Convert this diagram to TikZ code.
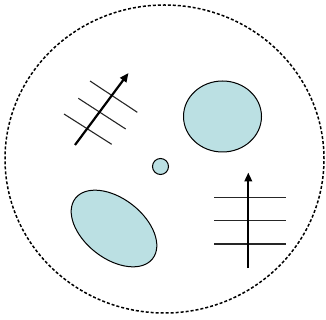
\documentclass[tikz,border=0pt]{standalone}
\usepackage{xcolor}
\usepackage{tikz}
\usetikzlibrary{arrows.meta,shapes.geometric}

\definecolor{cellfill}{RGB}{187,224,227}

\begin{document}
\begin{tikzpicture}[
    x=1pt, y=-1pt,
    blob/.style={ellipse, draw=black, fill=cellfill, line width=1pt, inner sep=0pt},
    hatch/.style={line width=1.1pt, draw=black!85},
    dir/.style={-{Triangle[length=9pt, width=7.5pt]}, line width=2.2pt},
    boundary/.style={ellipse, draw=black, line width=1.5pt, dash pattern=on 3pt off 2pt, inner sep=0pt},
]
\useasboundingbox (0,0) rectangle (326,320);

% Outer boundary
\node[boundary, minimum width=319pt, minimum height=308pt] (cell) at (164.5,159) {};

% Blobs
\node[blob, minimum width=78pt, minimum height=71pt] (blobNE) at (222.5,116.5) {};
\node[blob, minimum width=16pt, minimum height=16pt] (dot) at (160.5,166.5) {};
\node[blob, rotate=-38, minimum width=98pt, minimum height=60pt] (blobSW) at (114,228.5) {};

% Tilted field
\draw[hatch] (90,81) -- (137.3,112.3);
\draw[hatch] (78.3,98.3) -- (125.7,129);
\draw[hatch] (64,114) -- (111.7,144.3);
\coordinate (tiltS) at (75,145);
\coordinate (tiltN) at (128.5,73);
\draw[dir] (tiltS) -- (tiltN);

% Upright field
\foreach \yy in {197.7,220.7,244}
  \draw[hatch] (214.3,\yy) -- (285.7,\yy);
\coordinate (upS) at (248.3,268);
\coordinate (upN) at (248.3,172.5);
\draw[dir] (upS) -- (upN);
\end{tikzpicture}
\end{document}
